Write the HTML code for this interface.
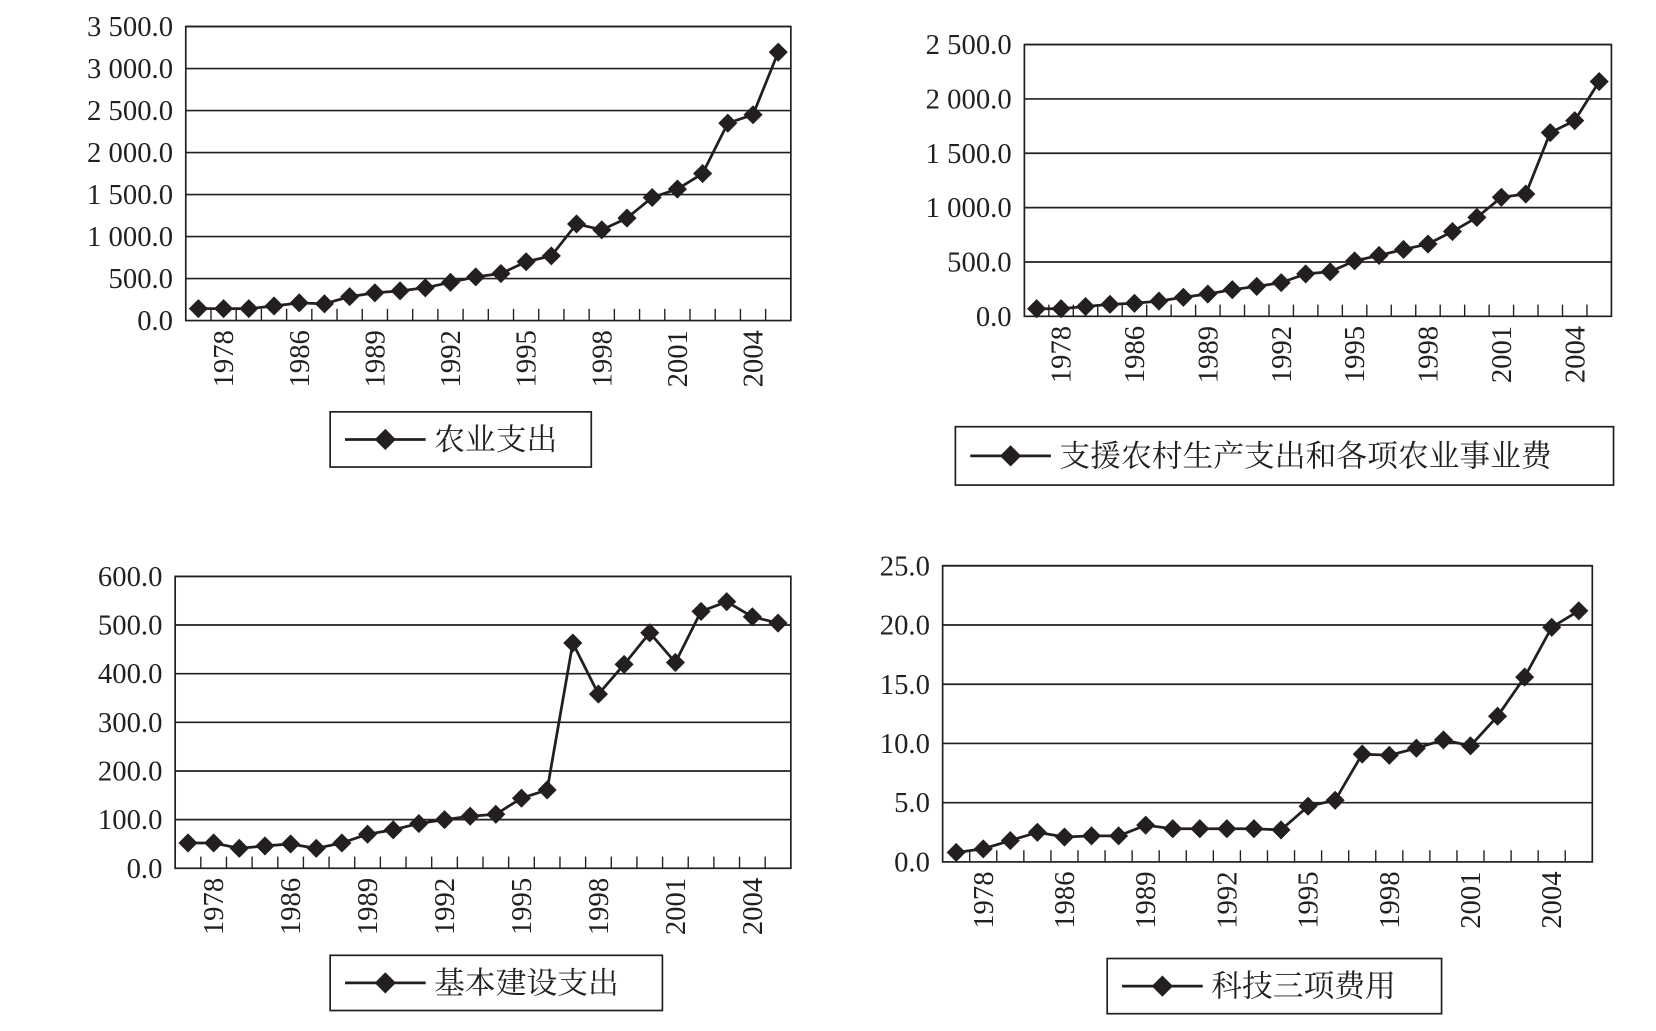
<!DOCTYPE html>
<html><head><meta charset="utf-8">
<style>
html,body{margin:0;padding:0;background:#fff;}
svg{display:block;}
text{font-family:"Liberation Serif","Noto Serif CJK SC",serif;fill:#231f20;}
.cjk{font-family:"Liberation Serif","Noto Serif CJK SC","Noto Sans CJK SC",serif;}
</style></head>
<body>
<svg id="root" width="1656" height="1031" viewBox="0 0 1560 971.3" preserveAspectRatio="none" xmlns="http://www.w3.org/2000/svg"></svg>
<script>
const categories = ["1975","1978","1980","1985","1986","1987","1988","1989","1990","1991","1992","1993","1994","1995","1996","1997","1998","1999","2000","2001","2002","2003","2004","2005"];
const agriValues = [142,142,142,174,211,199,285,330,354,390,455,520,560,700,770,1150,1080,1220,1465,1565,1750,2350,2450,3195];
const supportValues = [70,70,90,110,120,140,175,205,245,275,310,390,410,510,560,615,665,780,910,1095,1125,1690,1800,2160];
const constructionValues = [52,52,41,46,50,41,52,70,79,92,100,107,111,144,161,463,358,419,484,423,528,548,517,504];
const scienceValues = [0.8,1.1,1.8,2.5,2.1,2.2,2.2,3.1,2.8,2.8,2.8,2.8,2.7,4.7,5.2,9.1,9.0,9.6,10.3,9.8,12.3,15.6,19.8,21.2];
const agriTicks = ["0.0","500.0","1 000.0","1 500.0","2 000.0","2 500.0","3 000.0","3 500.0"];
const supportTicks = ["0.0","500.0","1 000.0","1 500.0","2 000.0","2 500.0"];
const constructionTicks = ["0.0","100.0","200.0","300.0","400.0","500.0","600.0"];
const scienceTicks = ["0.0","5.0","10.0","15.0","20.0","25.0"];

const NS="http://www.w3.org/2000/svg";
const root=document.getElementById('root');
function mk(tag,attrs,parent){const e=document.createElementNS(NS,tag);for(const k in attrs)e.setAttribute(k,attrs[k]);parent.appendChild(e);return e;}

function drawChart(cfg){
  const g=mk('g',{},root);
  
  
  const {x0,x1,y0,y1,max,step}=cfg;
  const n=categories.length;
  const bw=(x1-x0)/n;
  const xs=i=>x0+bw*(i+0.5);
  const ys=v=>y1-(v/max)*(y1-y0);
  // gridlines + y labels
  cfg.ticks.forEach((t,i)=>{
    const v=i*step, y=ys(v);
    if(i>0){const l=mk('line',{x1:x0,x2:x1,y1:y,y2:y,stroke:'#231f20','stroke-width':1.6},g);
      }
    const tx=mk('text',{x:x0-12,y:y+9,'text-anchor':'end','font-size':27},g);
    tx.textContent=t;
    
  });
  const box=mk('rect',{x:x0,y:y0,width:x1-x0,height:y1-y0,fill:'none',stroke:'#231f20','stroke-width':1.6},g);
  
  // x ticks
  for(let i=1;i<n;i++){
    const x=x0+bw*i;
    const tk=mk('line',{x1:x,x2:x,y1:y1,y2:y1-11,stroke:'#231f20','stroke-width':1.3},g);
    
  }
  categories.forEach((c,i)=>{
    if(i%3!==1)return;
    const x=xs(i)+9, y=y1+9;
    const tx=mk('text',{x:x,y:y,'text-anchor':'end','font-size':27,transform:`rotate(-90 ${x} ${y})`},g);
    tx.textContent=c;
    
  });
  const pts=cfg.values.map((v,i)=>[xs(i),ys(v)]);
  const line=mk('polyline',{points:pts.map(p=>p.join(',')).join(' '),fill:'none',stroke:'#231f20','stroke-width':2.6,'stroke-linejoin':'round'},g);
  
  pts.forEach(p=>{
    const d=9;
    const m=mk('polygon',{points:`${p[0]},${p[1]-d} ${p[0]+d},${p[1]} ${p[0]},${p[1]+d} ${p[0]-d},${p[1]}`,fill:'#231f20'},g);
    
  });
  // legend
  const L=cfg.legend;
  const lg=mk('g',{},g);
  
  mk('rect',{x:L.x,y:L.y,width:L.w,height:L.h,fill:'#fff',stroke:'#231f20','stroke-width':1.6},lg);
  const cy=L.y+L.h/2;
  mk('line',{x1:L.x+14,x2:L.x+90,y1:cy,y2:cy,stroke:'#231f20','stroke-width':2.6},lg);
  mk('polygon',{points:`${L.x+52},${cy-10} ${L.x+62},${cy} ${L.x+52},${cy+10} ${L.x+42},${cy}`,fill:'#231f20'},lg);
  const lt=mk('text',{x:L.x+98,y:cy+10,'font-size':29,class:'cjk'},lg);
  lt.textContent=cfg.label;
  
}

drawChart({name:'agriculture-chart',x0:175,x1:745,y0:25,y1:302,max:3500,step:500,ticks:agriTicks,values:agriValues,label:'农业支出',legend:{x:311,y:388,w:246,h:52}});
drawChart({name:'support-chart',x0:965,x1:1518,y0:42,y1:298,max:2500,step:500,ticks:supportTicks,values:supportValues,label:'支援农村生产支出和各项农业事业费',legend:{x:900,y:402,w:620,h:55}});
drawChart({name:'construction-chart',x0:165,x1:745,y0:543,y1:818,max:600,step:100,ticks:constructionTicks,values:constructionValues,label:'基本建设支出',legend:{x:311,y:900,w:313,h:52}});
drawChart({name:'science-chart',x0:888,x1:1500,y0:533,y1:812,max:25,step:5,ticks:scienceTicks,values:scienceValues,label:'科技三项费用',legend:{x:1043,y:903,w:315,h:52}});
</script>
</body></html>
